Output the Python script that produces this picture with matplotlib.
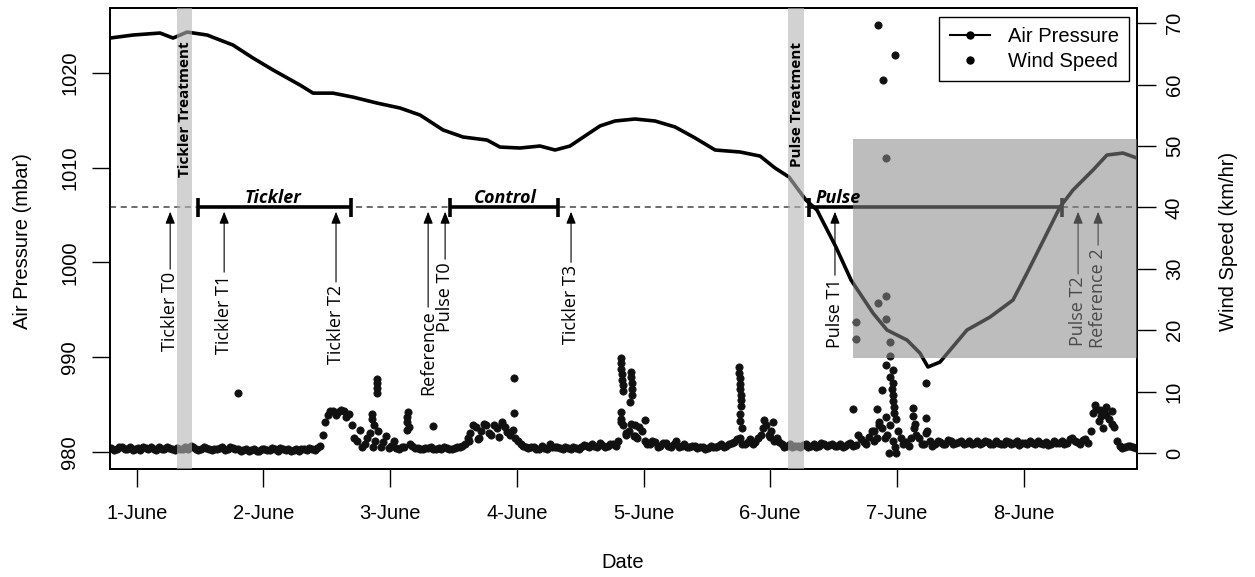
import numpy as np
import matplotlib
matplotlib.use("Agg")
import matplotlib.pyplot as plt
from matplotlib.lines import Line2D
from matplotlib.patches import Rectangle

# days since 1-June 00:00
pressure_day = [-0.211, -0.029, 0.184, 0.287, 0.397, 0.555, 0.760, 0.918, 1.076, 1.289,
                1.392, 1.549, 1.707, 1.897, 2.078, 2.236, 2.418, 2.576, 2.765, 2.867,
                3.025, 3.183, 3.302, 3.420, 3.538, 3.657, 3.775, 3.933, 4.091, 4.249,
                4.407, 4.565, 4.762, 4.920, 5.038, 5.148, 5.282, 5.369, 5.519, 5.638,
                5.811, 5.922, 6.080, 6.182, 6.245, 6.340, 6.553, 6.735, 6.916, 7.027,
                7.185, 7.287, 7.390, 7.548, 7.658, 7.784, 7.895]
pressure_mbar = [1023.67, 1023.99, 1024.20, 1023.67, 1024.30, 1023.99, 1022.93, 1021.56, 1020.30, 1018.71,
                 1017.86, 1017.86, 1017.44, 1016.81, 1016.29, 1015.55, 1013.97, 1013.23, 1012.91, 1012.17,
                 1012.07, 1012.28, 1011.86, 1012.28, 1013.34, 1014.40, 1014.92, 1015.13, 1014.92, 1014.29,
                 1013.13, 1011.86, 1011.65, 1011.22, 1009.96, 1009.01, 1006.58, 1005.53, 1001.62, 998.14,
                 994.66, 992.87, 991.81, 990.44, 988.97, 989.49, 992.87, 994.24, 996.03, 998.88,
                 1003.10, 1005.84, 1007.64, 1009.75, 1011.33, 1011.54, 1011.01]

# wind speed (km/hr), readings on the hour starting at day -0.2
wind_start = -0.2
wind_hourly = [
    0.8, 0.6, 0.9, 0.7, 0.5, 0.8, 1.0, 0.6, 0.7, 0.9, 0.6, 0.8, 0.5, 0.7, 0.9, 1.1, 0.7, 0.6, 0.8, 0.5, 0.7, 0.9, 0.6, 0.8,
    0.7, 0.5, 0.3, 0.6, 0.4, 0.7, 0.5, 0.6, 0.8, 0.5, 0.4, 0.6, 0.7, 0.5, 0.6, 0.8, 3.0, 6.2, 6.8, 6.6, 6.9, 6.3, 2.5, 3.8,
    1.5, 3.2, 2.0, 1.0, 2.8, 1.2, 0.8, 0.9, 3.8, 1.2, 0.8, 0.7, 0.8, 0.7, 0.8, 0.9, 0.7, 0.8, 1.0, 1.5, 3.2, 4.3, 3.6, 4.5,
    3.0, 4.0, 4.8, 3.4, 3.8, 2.0, 1.2, 0.8, 1.0, 0.7, 0.8, 1.4, 1.0, 0.8, 0.9, 0.7, 0.8, 1.0, 1.2, 1.5, 1.0, 1.3, 1.1, 1.5,
    2.0, 4.5, 3.5, 2.8, 4.2, 2.0, 1.4, 1.8, 1.2, 1.6, 1.0, 1.9, 1.2, 1.0, 1.1, 0.8, 0.9, 0.8, 1.0, 1.2, 1.0, 1.4, 1.8, 2.5,
    1.5, 2.2, 1.8, 3.0, 4.6, 3.5, 2.5, 1.5, 1.2, 1.0, 1.1, 1.3, 1.0, 1.4, 1.2, 1.5, 1.3, 1.1, 1.4, 1.2, 1.6, 1.3, 2.2, 1.5,
    3.5, 2.5, 4.0, 3.0, 2.0, 3.5, 1.5, 1.2, 4.0, 2.5, 1.5, 2.0, 1.4, 1.8, 1.5, 1.9, 1.6, 2.0, 1.7, 1.5, 1.9, 1.6, 1.8, 1.5,
    1.7, 1.4, 1.8, 1.6, 1.3, 1.7, 1.9, 1.5, 1.6, 1.8, 1.4, 1.7, 2.0, 1.6, 2.4, 1.8, 2.1, 1.6, 6.5, 5.2, 6.8, 5.6, 4.2, 1.2,
    0.9, 1.1, 0.8]
# readings on the half hour
wind_halfhour = [
    0.5, 1.0, 0.6, 0.9, 0.7, 0.5, 0.8, 1.0, 0.5, 0.7, 1.0, 0.6, 0.8, 0.6, 0.7, 0.9, 0.5, 0.9, 0.7, 0.6, 0.8, 0.5, 0.9, 0.6,
    0.4, 0.6, 0.5, 0.3, 0.6, 0.5, 0.8, 0.4, 0.6, 0.7, 0.5, 0.4, 0.6, 0.8, 0.5, 1.2, 5.0, 6.8, 6.2, 7.0, 5.8, 4.5, 2.0, 1.0,
    2.5, 1.0, 3.5, 1.8, 0.8, 2.0, 0.7, 1.0, 1.5, 0.8, 0.6, 0.8, 0.9, 0.6, 0.7, 0.8, 0.6, 0.9, 1.2, 2.5, 4.6, 2.2, 4.8, 3.2,
    4.5, 2.6, 4.2, 3.0, 2.5, 1.5, 1.0, 0.9, 0.6, 1.2, 0.7, 1.0, 0.9, 0.6, 0.8, 1.0, 0.7, 1.3, 0.9, 1.1, 1.6, 0.9, 1.4, 1.2,
    5.5, 3.0, 4.8, 2.5, 3.6, 1.5, 2.0, 1.0, 1.7, 1.1, 1.5, 1.0, 1.4, 0.9, 1.2, 1.0, 0.7, 1.1, 0.9, 1.5, 1.1, 1.6, 2.2, 1.4,
    1.8, 1.4, 2.4, 4.0, 3.0, 2.0, 1.8, 1.0, 1.4, 1.2, 0.9, 1.5, 1.2, 1.0, 1.6, 1.1, 1.5, 1.2, 1.0, 1.5, 1.1, 3.0, 1.8, 2.6,
    2.0, 5.0, 2.5, 4.5, 1.0, 2.5, 1.8, 2.5, 3.0, 1.5, 3.5, 1.2, 2.0, 1.4, 2.1, 1.5, 1.8, 1.4, 2.0, 1.7, 1.5, 2.0, 1.4, 1.9,
    1.5, 2.0, 1.4, 1.9, 1.6, 1.4, 1.7, 2.0, 1.5, 1.3, 1.9, 1.6, 1.5, 2.2, 1.9, 1.5, 2.3, 3.5, 7.2, 6.0, 6.2, 4.8, 2.0, 0.8,
    1.2, 1.0]

# extra readings (gusts)
gust_day = [0.80, 1.90, 1.90, 1.90, 1.90, 1.86, 1.86, 1.87, 2.13, 2.13, 2.14, 2.15, 2.34, 2.98, 2.98,
            2.62, 2.70, 2.88, 3.82, 3.82, 3.82, 3.83, 3.83, 3.84, 3.84, 3.90, 3.90, 3.91, 3.91, 3.91,
            3.89, 3.82, 3.82, 3.86, 3.93, 3.93, 4.01, 4.75, 4.75, 4.76, 4.76, 4.76, 4.77, 4.77, 4.77,
            4.76, 4.76, 4.78, 4.95, 5.02, 5.00, 5.850, 5.985, 5.888, 5.911, 5.677, 5.677, 5.848, 5.911,
            5.911, 5.946, 5.946, 5.911, 5.967, 5.946, 5.967, 6.230, 5.885, 5.656, 5.840, 5.911, 6.127,
            6.127, 6.230, 6.230, 5.940, 5.990, 5.960, 5.970, 5.970, 5.980, 5.980, 5.990, 5.820, 5.860,
            6.140, 7.56, 7.60, 7.65, 7.70, 7.63]
gust_kmh = [9.8, 9.8, 10.6, 11.4, 12.1, 5.5, 6.3, 4.5, 5.0, 5.8, 6.6, 4.2, 4.4, 6.5, 12.2,
            2.0, 2.5, 5.0, 15.5, 14.6, 13.7, 12.8, 11.9, 11.0, 10.1, 13.2, 12.3, 11.4, 10.5, 9.5,
            8.3, 6.7, 5.1, 3.2, 2.8, 4.5, 5.4, 14.0, 13.1, 12.2, 11.3, 10.4, 9.5, 8.6, 7.7,
            6.4, 5.2, 4.0, 5.3, 5.0, 2.6, 69.7, 64.9, 60.7, 48.1, 21.3, 18.6, 24.5, 25.6,
            21.9, 18.1, 15.8, 14.3, 13.5, 12.4, 11.4, 11.4, 10.3, 7.1, 7.1, 5.9, 7.3,
            6.0, 5.7, 3.3, 0.0, 0.0, 10.5, 9.5, 8.5, 7.5, 6.5, 5.5, 3.5, 4.5,
            4.8, 7.8, 7.0, 7.5, 6.8, 4.0]

day_labels = ['1-June', '2-June', '3-June', '4-June', '5-June', '6-June', '7-June', '8-June']

treatments = ['Tickler Treatment', 'Pulse Treatment']
treat_start = [0.318, 5.140]
treat_end = [0.436, 5.270]

periods = ['Tickler', 'Control', 'Pulse']
period_start = [0.484, 2.473, 5.307]
period_end = [1.692, 3.325, 7.300]
period_label_day = [1.076, 2.907, 5.535]

samples = ['Tickler T0', 'Tickler T1', 'Tickler T2', 'Reference', 'Pulse T0',
           'Tickler T3', 'Pulse T1', 'Pulse T2', 'Reference 2']
sample_day = [0.264, 0.690, 1.573, 2.300, 2.434, 3.428, 5.511, 7.430, 7.588]
label_top = [29.5, 29.0, 27.4, 23.3, 31.1, 30.6, 28.5, 28.7, 33.4]

ref_level = 40

W, H = 1255, 577
fig = plt.figure(figsize=(W / 100, H / 100), dpi=100)
ax1 = fig.add_axes([110 / W, 1 - 469 / H, 1027 / W, 461 / H])
ax2 = ax1.twinx()

tick_font = dict(family='Liberation Sans', size=14.5)
lab_font = 'Open Sans'

# pressure line
ax1.plot(pressure_day, pressure_mbar, color='black', lw=2.6, solid_joinstyle='round')
ax1.set_xlim(-0.211, 7.895)
ax1.set_ylim(978.21, 1026.84)
ax1.set_xticks(range(len(day_labels)))
ax1.set_xticklabels(day_labels, **tick_font)
ax1.set_yticks([980, 990, 1000, 1010, 1020])
ax1.set_yticklabels(['980', '990', '1000', '1010', '1020'], rotation=90, va='center', **tick_font)
ax1.tick_params(axis='x', length=13, width=1, pad=12)
ax1.tick_params(axis='y', length=13, width=1, pad=9)

# wind speed points
wind_day = wind_start + np.arange(len(wind_hourly)) / 24.0
wind_day_half = wind_start + (np.arange(len(wind_halfhour)) + 0.5) / 24.0
pt = dict(color='#111111', ms=5.2, mew=0.6, zorder=2, ls='none', marker='o')
ax2.plot(wind_day, wind_hourly, **pt)
ax2.plot(wind_day_half, wind_halfhour, **pt)
ax2.plot(gust_day, gust_kmh, **pt)
ax2.set_ylim(-2.61, 72.48)
ax2.set_yticks(range(0, 80, 10))
ax2.set_yticklabels([str(v) for v in range(0, 80, 10)], rotation=90, va='center', **tick_font)
ax2.tick_params(axis='y', length=14, width=1, pad=6)

ax2.axhline(ref_level, color='#444444', lw=1.1, ls=(0, (4, 3)), zorder=1)

# period bars
for name, s, e, c in zip(periods, period_start, period_end, period_label_day):
    ax2.plot([s, e], [ref_level, ref_level], color='black', lw=2.6, zorder=2, solid_capstyle='butt')
    ax2.vlines([s, e], ref_level - 1.6, ref_level + 1.5, color='black', lw=2.6, zorder=2)
    ax2.text(c, 40.7, name, ha='center', va='baseline', family=lab_font,
             weight='bold', style='italic', size=13, zorder=6)

# sample arrows
for name, d, top in zip(samples, sample_day, label_top):
    ax2.annotate(name, xy=(d, 39.3), xytext=(d, top), rotation=90, ha='center', va='top',
                 family=lab_font, size=13, zorder=3,
                 arrowprops=dict(arrowstyle='-|>,head_length=0.55,head_width=0.22',
                                 color='black', lw=0.8, shrinkA=0, shrinkB=0))

# treatment bands
for name, s, e in zip(treatments, treat_start, treat_end):
    ax2.axvspan(s, e, color='#b5b5b5', alpha=0.6, lw=0, zorder=4)
    ax2.text((s + e) / 2 + 0.005, 67.0, name, rotation=90, ha='center', va='top',
             family=lab_font, weight='bold', size=11, zorder=6)

# shaded window after the pulse
ax2.add_patch(Rectangle((5.65, 15.5), 7.895 - 5.65, 51.1 - 15.5, facecolor='#888888',
                        alpha=0.55, lw=0, zorder=5))

for ax in (ax1, ax2):
    for sp in ax.spines.values():
        sp.set_linewidth(1.3)

handles = [Line2D([], [], color='black', lw=1.5, marker='o', ms=5),
           Line2D([], [], color='black', lw=0, marker='o', ms=5)]
leg = ax2.legend(handles, ['Air Pressure', 'Wind Speed'], loc='upper right',
                 bbox_to_anchor=(1129 / W, 1 - 17 / H), bbox_transform=fig.transFigure,
                 borderaxespad=0, fancybox=False, framealpha=1, edgecolor='black',
                 prop=dict(family='Liberation Sans', size=14.5), handlelength=2.0,
                 handletextpad=0.9, borderpad=0.5, labelspacing=0.3)
leg.get_frame().set_linewidth(1.0)
leg.set_zorder(10)

fig.text(23 / W, 1 - 241 / H, 'Air Pressure (mbar)', rotation=90, ha='center', va='center', **tick_font)
fig.text(1229 / W, 1 - 241 / H, 'Wind Speed (km/hr)', rotation=90, ha='center', va='center', **tick_font)
fig.text(623 / W, 1 - 563 / H, 'Date', ha='center', va='center', **tick_font)

fig.savefig('out.png', dpi=100)
